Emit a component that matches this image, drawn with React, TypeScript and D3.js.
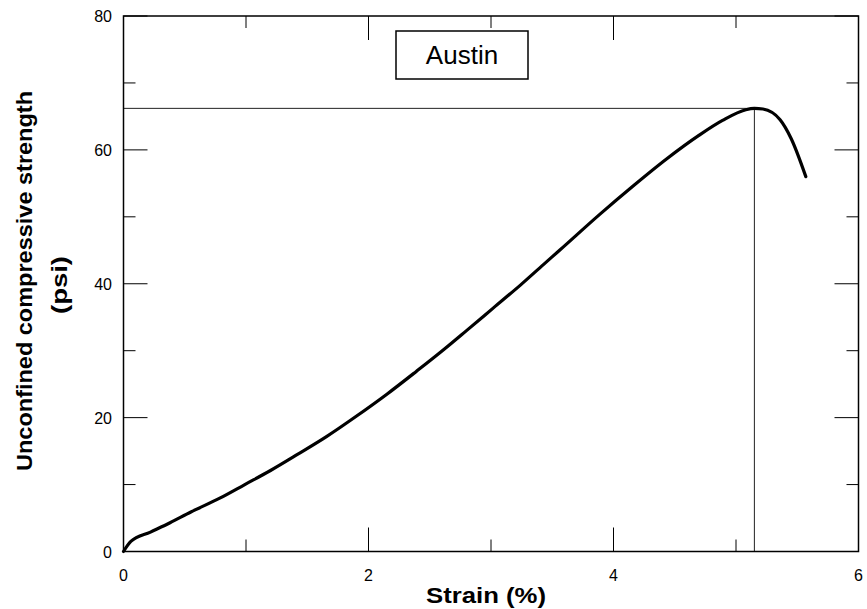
import React from "react";
import * as d3 from "d3";

const strain = [0, 0.06, 0.22, 0.38, 0.55, 0.79, 0.99, 1.2, 1.42, 1.66, 1.9, 2.15, 2.39, 2.61, 2.8, 3.02, 3.24, 3.43, 3.56, 3.89, 4.16, 4.43, 4.7, 4.89, 5.08, 5.15, 5.22, 5.36, 5.45, 5.57];
const stress = [0, 1.5, 2.9, 4.3, 5.9, 8.0, 10.0, 12.1, 14.5, 17.2, 20.2, 23.5, 26.9, 30.1, 33.0, 36.4, 39.8, 42.9, 45.0, 50.4, 54.6, 58.6, 62.2, 64.4, 66.0, 66.2, 66.1, 64.5, 61.7, 56.0];
const peakStrain = 5.15;
const peakStress = 66.2;
const xMajor = [0, 2, 4, 6];
const xMinor = [1, 3, 5];
const yMajor = [0, 20, 40, 60, 80];
const yMinor = [10, 30, 50, 70];
const label = "Austin";

export default function App() {
  const W = 867, H = 609;
  const L = 123.5, R = 858.5, T = 16, B = 551.5;
  const x = d3.scaleLinear().domain([0, 6]).range([L, R]);
  const y = d3.scaleLinear().domain([0, 80]).range([B, T]);
  const pts = strain.map((s, i) => [s, stress[i]] as [number, number]);
  const line = d3.line<[number, number]>().x(d => x(d[0])).y(d => y(d[1])).curve(d3.curveMonotoneX);
  const font = "Liberation Sans, Arial, sans-serif";
  const maj = 24, min = 12;
  return (
    <svg width={W} height={H} style={{ position: "absolute", left: 0, top: 0, background: "#fff" }} fontFamily={font}>
      <line x1={x(0)} x2={x(peakStrain)} y1={y(peakStress)} y2={y(peakStress)} stroke="#222" strokeWidth={1} />
      <line x1={x(peakStrain)} x2={x(peakStrain)} y1={y(peakStress)} y2={y(0)} stroke="#222" strokeWidth={1} />
      {xMajor.map(v => (
        <g key={"xM" + v}>
          <line x1={x(v)} x2={x(v)} y1={B} y2={B - maj} stroke="#000" />
          <line x1={x(v)} x2={x(v)} y1={T} y2={T + maj} stroke="#000" />
          <text x={x(v)} y={581} textAnchor="middle" fontSize={16}>{v}</text>
        </g>
      ))}
      {xMinor.map(v => (
        <g key={"xm" + v}>
          <line x1={x(v)} x2={x(v)} y1={B} y2={B - min} stroke="#000" />
          <line x1={x(v)} x2={x(v)} y1={T} y2={T + min} stroke="#000" />
        </g>
      ))}
      {yMajor.map(v => (
        <g key={"yM" + v}>
          <line x1={L} x2={L + maj} y1={y(v)} y2={y(v)} stroke="#000" />
          <line x1={R} x2={R - maj} y1={y(v)} y2={y(v)} stroke="#000" />
          <text x={112} y={y(v) + 6} textAnchor="end" fontSize={16}>{v}</text>
        </g>
      ))}
      {yMinor.map(v => (
        <g key={"ym" + v}>
          <line x1={L} x2={L + min} y1={y(v)} y2={y(v)} stroke="#000" />
          <line x1={R} x2={R - min} y1={y(v)} y2={y(v)} stroke="#000" />
        </g>
      ))}
      <rect x={L} y={T} width={R - L} height={B - T} fill="none" stroke="#000" strokeWidth={1.5} />
      <path d={line(pts) || ""} fill="none" stroke="#000" strokeWidth={3.2} strokeLinejoin="round" strokeLinecap="round" />
      <rect x={396} y={31} width={132} height={48} fill="#fff" stroke="#000" strokeWidth={1.5} />
      <text x={462} y={64} textAnchor="middle" fontSize={26}>{label}</text>
      <text x={486} y={603} textAnchor="middle" fontSize={22} fontWeight="bold" textLength={120} lengthAdjust="spacingAndGlyphs">Strain (%)</text>
      <text transform="translate(32,281) rotate(-90)" textAnchor="middle" fontSize={22} fontWeight="bold" textLength={380} lengthAdjust="spacingAndGlyphs">Unconfined compressive strength</text>
      <text transform="translate(67,285) rotate(-90)" textAnchor="middle" fontSize={22} fontWeight="bold" textLength={58} lengthAdjust="spacingAndGlyphs">(psi)</text>
    </svg>
  );
}
